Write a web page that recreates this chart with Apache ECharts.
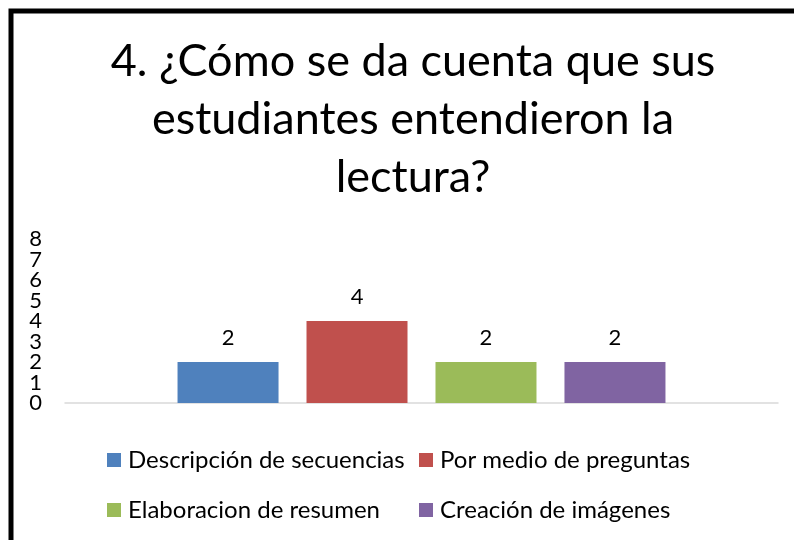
<!DOCTYPE html>
<html>
<head>
<meta charset="utf-8">
<script src="https://cdn.jsdelivr.net/npm/echarts@6/dist/echarts.min.js"></script>
<style>
  html, body { margin: 0; padding: 0; background: #fff; }
  #chart { width: 794px; height: 540px; }
</style>
</head>
<body>
<div id="chart"></div>
<script>
var titleText = '4. ¿Cómo se da cuenta que sus\nestudiantes entendieron la\nlectura?';
var categories = [''];
var seriesNames = ['Descripción de secuencias', 'Por medio de preguntas', 'Elaboracion de resumen', 'Creación de imágenes'];
var seriesValues = [2, 4, 2, 2];
var colors = ['#4F81BD', '#C0504D', '#9BBB59', '#8064A2'];
var yMax = 8;

var chart = echarts.init(document.getElementById('chart'));

var series = seriesNames.map(function (name, i) {
  return {
    name: name,
    type: 'bar',
    barWidth: 101,
    barGap: '27.7%',
    itemStyle: { color: colors[i] },
    label: {
      show: true,
      position: 'top',
      distance: 13,
      color: '#000',
      fontSize: 22,
      fontFamily: 'Lato'
    },
    data: [seriesValues[i]]
  };
});

// legend columns line up like the original, so one legend per column
var legendBase = {
  orient: 'vertical',
  top: 443,
  itemWidth: 14,
  itemHeight: 14,
  itemGap: 26,
  icon: 'rect',
  selectedMode: false,
  textStyle: { fontSize: 24, fontFamily: 'Lato', color: '#000', lineHeight: 22, padding: [0, 0, 0, 2] }
};

// the tick labels are packed tighter than their own height, and echarts drops
// neighbours that touch; even and odd labels go on two stacked axes instead
function yAxisFor(parity) {
  return {
    type: 'value',
    position: 'left',
    min: 0,
    max: yMax,
    interval: 1,
    splitLine: { show: false },
    axisLine: { show: false },
    axisTick: { show: false },
    axisLabel: {
      margin: 23,
      color: '#000', fontSize: 22, fontFamily: 'Lato',
      showMinLabel: true, showMaxLabel: true,
      formatter: function (v) { return v % 2 === parity ? String(v) : ''; }
    }
  };
}

var option = {
  animation: false,
  backgroundColor: '#fff',
  textStyle: { fontFamily: 'Lato' },
  title: {
    text: titleText,
    left: 408,
    top: 27,
    textAlign: 'center',
    textStyle: {
      fontFamily: 'Lato',
      fontSize: 45,
      fontWeight: 'normal',
      color: '#000',
      lineHeight: 58
    }
  },
  grid: { left: 65, right: 16, top: 239, bottom: 137 },
  xAxis: {
    type: 'category',
    data: categories,
    axisLine: { lineStyle: { color: '#D9D9D9', width: 1.5 } },
    axisTick: { show: false },
    axisLabel: { show: false }
  },
  yAxis: [yAxisFor(0), yAxisFor(1)],
  legend: [
    Object.assign({}, legendBase, { left: 102, data: [seriesNames[0], seriesNames[2]] }),
    Object.assign({}, legendBase, { left: 414, data: [seriesNames[1], seriesNames[3]] })
  ],
  series: series,
  graphic: [{
    type: 'rect',
    shape: { x: 11, y: 11, width: 900, height: 700 },
    style: { fill: null, stroke: '#000', lineWidth: 5 },
    silent: true
  }]
};

chart.setOption(option);
</script>
</body>
</html>
